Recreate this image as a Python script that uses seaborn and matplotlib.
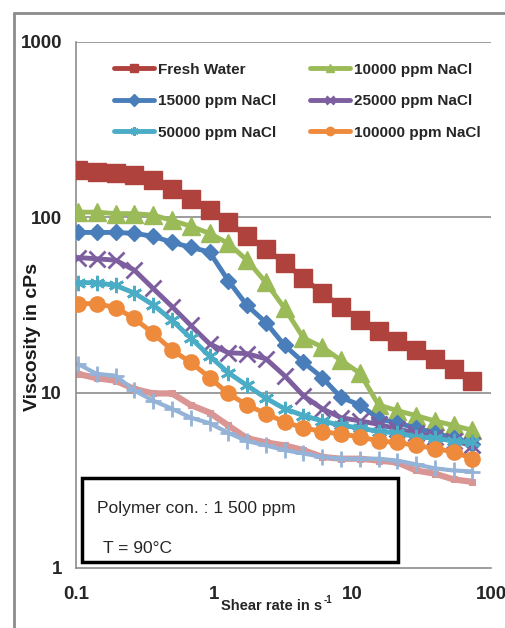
import matplotlib
matplotlib.use("Agg")
import matplotlib.pyplot as plt
import seaborn as sns
from matplotlib.lines import Line2D
from matplotlib.patches import Rectangle
from matplotlib import font_manager

# Shear rate (1/s) at which viscosity was measured
shear_rate = [0.103, 0.141, 0.193, 0.264, 0.361, 0.494, 0.675, 0.923, 1.26, 1.72, 2.36,
              3.22, 4.41, 6.02, 8.23, 11.3, 15.4, 21.0, 28.7, 39.3, 53.7, 73.4]

# Viscosity (cP) of 1500 ppm polymer solutions at 90 °C
fresh_water = [186, 181, 178, 174, 163, 146, 128, 110, 94, 78, 66,
               55, 45, 37, 31, 26, 22.6, 19.8, 17.6, 15.6, 13.7, 11.7]
nacl_10000 = [107, 107, 105, 105, 103, 96, 89, 81, 71, 57, 42.5,
              30.3, 20.5, 18.2, 15.3, 12.9, 8.5, 7.9, 7.4, 6.9, 6.5, 6.1]
nacl_15000 = [82, 82, 82, 81, 78, 72, 67.5, 63.4, 43.6, 31.5, 25.1,
              18.6, 14.9, 12.2, 9.4, 8.5, 7.1, 6.7, 6.3, 5.9, 5.5, 5.1]
nacl_25000 = [59, 58, 57, 50, 39.3, 31, 24.2, 19, 16.9, 16.7, 15.6,
              12.5, 9.6, 8.1, 7.2, 6.9, 6.6, 6.2, 5.9, 5.6, 5.3, 5.0]
nacl_50000 = [42.4, 42.4, 40.9, 37, 31.7, 25.9, 20.5, 16.2, 13, 11, 9.3,
              8.1, 7.4, 6.9, 6.5, 6.3, 6.0, 5.9, 5.6, 5.5, 5.3, 5.2]
nacl_100000 = [32.2, 32.2, 30.6, 26.5, 21.8, 17.5, 14.9, 12.2, 9.9, 8.5, 7.6,
               6.8, 6.3, 6.0, 5.8, 5.6, 5.3, 5.2, 5.0, 4.8, 4.6, 4.2]
extra_plus = [14.6, 12.8, 12.5, 10.3, 9.0, 8.1, 7.2, 6.7, 5.9, 5.3, 5.0,
              4.7, 4.5, 4.3, 4.2, 4.2, 4.2, 4.1, 3.9, 3.7, 3.6, 3.55]
extra_line = [12.8, 12.1, 11.7, 10.5, 9.9, 9.9, 8.5, 7.7, 6.5, 5.5, 5.2,
              5.0, 4.7, 4.3, 4.2, 4.2, 4.1, 4.0, 3.6, 3.45, 3.2, 3.1]

series_labels = ["Fresh Water", "10000 ppm NaCl", "15000 ppm NaCl",
                 "25000 ppm NaCl", "50000 ppm NaCl", "100000 ppm NaCl"]

x_ticks = [0.1, 1, 10, 100]
x_tick_labels = ["0.1", "1", "10", "100"]
y_ticks = [1, 10, 100, 1000]
y_tick_labels = ["1", "10", "100", "1000"]

sns.set_style("white")

available = {f.name for f in font_manager.fontManager.ttflist}
narrow = "Liberation Sans Narrow" if "Liberation Sans Narrow" in available else "Liberation Sans"
plt.rcParams["font.family"] = ["Liberation Sans", "DejaVu Sans"]

fig = plt.figure(figsize=(5.06, 6.28), dpi=100)
ax = fig.add_axes([76 / 506, 1 - 568 / 628, 415 / 506, 526 / 628])

# style per series: colour, marker, marker size, marker edge width
styles = [
    ("#B0423E", "s", 13, 1.0),
    ("#9BBB59", "^", 13, 1.0),
    ("#4A7EBB", "D", 8.5, 1.0),
    ("#7D5FA0", "x", 11, 2.0),
    ("#4BACC6", (6, 2, 0), 11, 2.0),
    ("#EE8A3C", "o", 11, 1.0),
]
data = [fresh_water, nacl_10000, nacl_15000, nacl_25000, nacl_50000, nacl_100000]

ax.set_xscale("log")
ax.set_yscale("log")

for values, (col, mk, ms, mew) in zip(data, styles):
    sns.lineplot(x=shear_rate, y=values, ax=ax, color=col, marker=mk,
                 markersize=ms, markeredgecolor=col, markeredgewidth=mew,
                 linewidth=3.5, legend=False, zorder=3)

sns.lineplot(x=shear_rate, y=extra_line, ax=ax, color="#D99694", marker="s",
             markersize=5, markeredgecolor="#D99694", linewidth=4.5,
             legend=False, zorder=2)
sns.lineplot(x=shear_rate, y=extra_plus, ax=ax, color="#95B3D7", marker="+",
             markersize=11, markeredgecolor="#95B3D7", markeredgewidth=2,
             linewidth=3, legend=False, zorder=2)

ax.set_xlim(0.1, 100)
ax.set_ylim(1, 1000)
ax.set_xticks(x_ticks)
ax.set_xticklabels(x_tick_labels)
ax.set_yticks(y_ticks)
ax.set_yticklabels(y_tick_labels)
ax.minorticks_off()

for v in y_ticks[1:]:
    ax.axhline(v, color="#8C8C8C", linewidth=1.2, zorder=1)

for side in ("top", "right"):
    ax.spines[side].set_visible(False)
for side in ("left", "bottom"):
    ax.spines[side].set_color("#8C8C8C")
    ax.spines[side].set_linewidth(1.2)

ax.tick_params(axis="both", which="major", direction="out", color="#8C8C8C",
               width=1.2)
ax.tick_params(axis="y", length=5, pad=5)
ax.tick_params(axis="x", length=7, pad=6)
for lab in ax.get_xticklabels() + ax.get_yticklabels():
    lab.set_family([narrow, "DejaVu Sans"])
    lab.set_fontweight("bold")
    lab.set_fontsize(13.5)

ax.set_xlabel("")
ax.set_ylabel("")

# axis titles
fig.text(33 / 506, 1 - 337 / 628, "Viscosity in cPs", rotation=90,
         ha="center", va="center", fontsize=14, fontweight="bold",
         color="#1a1a1a")
xlab = fig.text(221 / 506, 1 - 606 / 628, "Shear rate in s", ha="left",
                va="center", fontsize=10.5, fontweight="bold",
                family=[narrow, "DejaVu Sans"])
fig.canvas.draw()
bb = xlab.get_window_extent().transformed(fig.transFigure.inverted())
fig.text(bb.x1 + 1 / 506, 1 - 600 / 628, "-1", ha="left", va="center",
         fontsize=7, fontweight="bold", family=[narrow, "DejaVu Sans"])

# legend, filled row by row
handles = [Line2D([], [], color=col, marker=mk, markersize=6,
                  markeredgecolor=col, markeredgewidth=mew, linewidth=3.5)
           for (col, mk, ms, mew) in styles]
order = [0, 2, 4, 1, 3, 5]
ax.legend([handles[i] for i in order], [series_labels[i] for i in order],
          ncol=2, loc="upper left", bbox_to_anchor=(0.058, 0.987),
          frameon=False, prop={"weight": "bold", "size": 11},
          handlelength=2.6, handletextpad=0.3, columnspacing=2.2,
          labelspacing=1.15)

# annotation box
ax.add_patch(Rectangle((0.0145, 0.011), 0.762, 0.16, transform=ax.transAxes,
                       facecolor="white", edgecolor="black", linewidth=2.5,
                       zorder=5))
ax.text(0.05, 0.114, "Polymer con. : 1 500 ppm", transform=ax.transAxes,
        ha="left", va="center", fontsize=12.5, zorder=6,
        family=[narrow, "DejaVu Sans"])
ax.text(0.065, 0.038, "T = 90°C", transform=ax.transAxes,
        ha="left", va="center", fontsize=12.5, zorder=6,
        family=[narrow, "DejaVu Sans"])

# outer frame
fig.add_artist(Line2D([14 / 506, 14 / 506], [0, 1 - 13 / 628],
                      transform=fig.transFigure, color="#8C8C8C", linewidth=2))
fig.add_artist(Line2D([14 / 506, 1], [1 - 13 / 628, 1 - 13 / 628],
                      transform=fig.transFigure, color="#8C8C8C", linewidth=2))

fig.savefig("out.png", dpi=100)
